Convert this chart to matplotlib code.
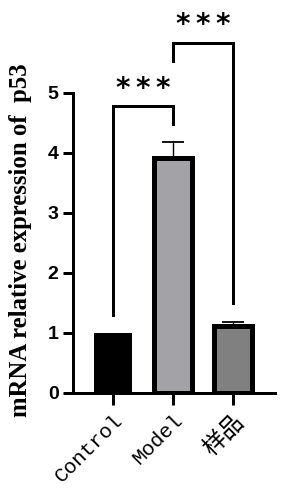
import matplotlib
matplotlib.use("Agg")
import matplotlib.pyplot as plt
import numpy as np

categories = ["Control", "Model", "样品"]
values = [1.0, 3.92, 1.12]
errors_up = [0.0, 0.26, 0.06]
fill_colors = ["#000000", "#a3a2a7", "#808080"]
y_ticks = [0, 1, 2, 3, 4, 5]
ylabel = "mRNA relative expression of  p53"

# significance brackets: (left idx, right idx, top y, left leg bottom, right leg bottom, star y, text)
brackets = [
    (0, 1, 4.78, 1.29, 4.48, 5.06, "*\u2009*\u2009*"),
    (1, 2, 5.83, 5.53, 1.50, 6.13, "*\u2009*\u2009*"),
]

W, H = 288, 500
fig = plt.figure(figsize=(W / 100, H / 100), dpi=100)
ax = fig.add_axes([72.7 / W, 1 - 392.7 / H, (275 - 72.7) / W, 300 / H])

x = np.arange(len(categories))
lw_px = 3.0
lw = lw_px * 72 / 100
for i in range(len(categories)):
    ax.bar(x[i], values[i], width=0.62, color=fill_colors[i], edgecolor="black",
           linewidth=(0 if i == 0 else 3.6), zorder=2)
    if errors_up[i] > 0:
        _, caps, _ = ax.errorbar(x[i], values[i], yerr=[[0], [errors_up[i]]], fmt="none",
                                 ecolor="black", elinewidth=1.0, capsize=7.6,
                                 capthick=1.3, zorder=1)
        for c in caps:
            c.set_color("#7a7a7a")

ax.set_xlim(-0.672, 2.7)
ax.set_ylim(0, 5)
ax.set_yticks(y_ticks)
ax.set_yticklabels([str(t) for t in y_ticks], fontfamily="Liberation Sans",
                   fontweight="bold", fontsize=14)
ax.set_xticks(x)
labels = ax.set_xticklabels(categories, rotation=45, ha="right", rotation_mode="anchor",
                            fontfamily=["Liberation Mono", "Noto Sans CJK SC"], fontsize=15)
for lab in labels:
    if not lab.get_text().isascii():
        lab.set_fontsize(17)
for s in ["top", "right"]:
    ax.spines[s].set_visible(False)
for s in ["left", "bottom"]:
    ax.spines[s].set_linewidth(lw)
ax.tick_params(axis="y", length=7.2, width=lw, pad=3)
ax.tick_params(axis="x", length=8.6, width=lw, pad=4)

for (a, b, top, la, lb, sy, txt) in brackets:
    ax.plot([x[a], x[a], x[b], x[b]], [la, top, top, lb], color="black",
            linewidth=lw, clip_on=False, solid_joinstyle="miter", zorder=3)
    ax.text((x[a] + x[b]) / 2, sy, txt, ha="center", va="center",
            fontfamily="DejaVu Sans", fontweight="bold", fontsize=20, clip_on=False)

fig.text(21 / W, 1 - 240 / H, ylabel, rotation=90, ha="center", va="center",
         fontfamily="Liberation Serif", fontweight="bold", fontsize=17.8)

fig.savefig("out.png", dpi=100)
